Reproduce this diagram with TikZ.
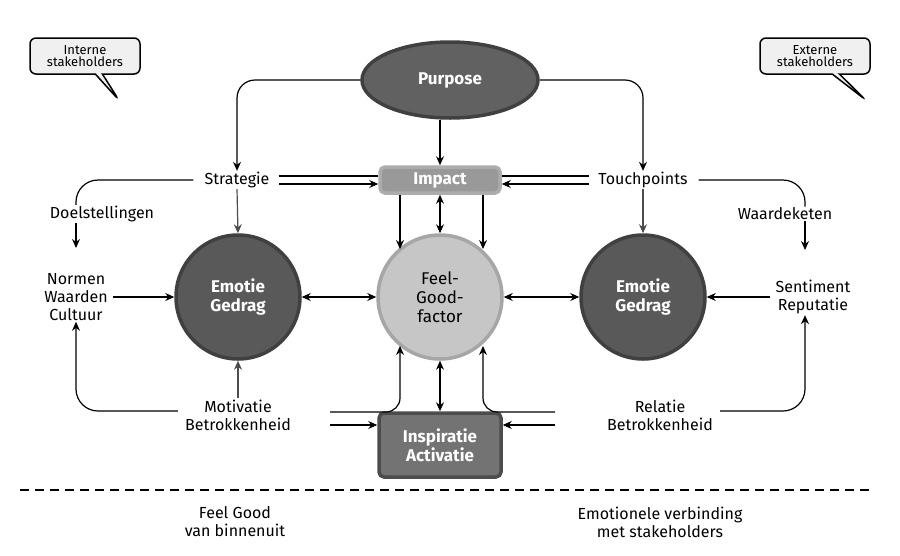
\documentclass[tikz,border=0pt]{standalone}
\usepackage{fontspec}
\setmainfont{Fira Sans}
\usetikzlibrary{shapes.geometric,shapes.callouts,arrows.meta}
\begin{document}
\begin{tikzpicture}[x=1pt,y=-1pt,
  txt/.style={font=\fontsize{16}{18}\selectfont,align=center,inner sep=1pt},
  arr/.style={-{Stealth[length=9pt,width=8pt]},line width=1.2pt},
  darr/.style={{Stealth[length=9pt,width=8pt]}-{Stealth[length=9pt,width=8pt]},line width=1.2pt},
  ln/.style={line width=1.2pt},
  circ/.style={circle,minimum size=124pt,line width=3.5pt,text=white,font=\bfseries\fontsize{17}{19}\selectfont,align=center},
  box/.style={rounded corners=5pt,line width=3.5pt,text=white,font=\bfseries\fontsize{17}{19}\selectfont,align=center},
  call/.style={rectangle callout,rounded corners=6pt,draw,line width=1.5pt,fill=gray!12,font=\fontsize{13}{12}\selectfont,align=center,inner sep=2pt,minimum width=110pt,minimum height=36pt}]
\useasboundingbox (0,0) rectangle (900,555);
% callouts
\node[call,callout relative pointer={(20pt,-26pt)}] (ci) at (85,56) {Interne\\stakeholders};
\node[call,callout relative pointer={(30pt,-26pt)}] (ce) at (815,56) {Externe\\stakeholders};
% main shapes
\node[ellipse,minimum width=176pt,minimum height=76pt,fill=black!62,draw=black!75,line width=3.5pt,text=white,font=\bfseries\fontsize{17}{19}\selectfont] (pur) at (450,80) {Purpose};
\node[box,fill=gray!80,draw=gray!65,minimum width=120pt,minimum height=26pt] (imp) at (440,180) {Impact};
\node[box,fill=black!55,draw=black!70,minimum width=122pt,minimum height=64pt] (ins) at (440,445) {Inspiratie\\Activatie};
\node[circ,fill=black!65,draw=black!75] (el) at (238,297) {Emotie\\Gedrag};
\node[circ,fill=black!65,draw=black!75] (er) at (643,297) {Emotie\\Gedrag};
\node[circ,fill=gray!45,draw=gray!70,text=black,font=\fontsize{17}{19}\selectfont] (fg) at (440,297) {Feel-\\Good-\\factor};
% texts
\node[txt] (str) at (237,180) {Strategie};
\node[txt] (tp) at (643,180) {Touchpoints};
\node[txt] (doel) at (102,214) {Doelstellingen};
\node[txt] (wk) at (785,214) {Waardeketen};
\node[txt] (nwc) at (76,297) {Normen\\Waarden\\Cultuur};
\node[txt] (sr) at (813,297) {Sentiment\\Reputatie};
\node[txt] (mot) at (238,415) {Motivatie\\Betrokkenheid};
\node[txt] (rel) at (660,415) {Relatie\\Betrokkenheid};
\node[txt] (b1) at (235,522) {Feel Good\\van binnenuit};
\node[txt] (b2) at (660,522) {Emotionele verbinding\\met stakeholders};
\draw[ln,dash pattern=on 9pt off 6pt] (20,490) coordinate (dl) -- (870,490) coordinate (dr);
% Purpose arrows
\draw[arr,rounded corners=18pt] (pur.west) -| (str.north);
\draw[arr,rounded corners=18pt] (pur.east) -| (tp.north);
\draw[arr] (pur.south -| imp.north) -- (imp.north);
% Strategie / Touchpoints to Impact
\draw[arr] ([yshift=-4pt]str.east) ++(8,0) -- ([yshift=-4pt]imp.west);
\draw[ln] ([yshift=4pt]str.east) ++(8,0) -- ([yshift=4pt]imp.west);
\draw[arr] ([yshift=-4pt]tp.west) ++(-8,0) -- ([yshift=-4pt]imp.east);
\draw[ln] ([yshift=4pt]tp.west) ++(-8,0) -- ([yshift=4pt]imp.east);
% Impact to Feel-Good
\draw[arr] (imp.south -| 400,0) -- (400,249);
\draw[arr] (imp.south -| 483,0) -- (483,249);
\draw[darr] (imp.south) -- (fg.north);
% down to emotie
\draw[arr,gray!60!black] (str.south) -- (el.north);
\draw[arr,gray!60!black] (tp.south) -- (er.north);
\draw[arr,gray!60!black] (mot.north) -- (el.south);
% left side
\draw[ln,rounded corners=22pt] (str.west) ++(-10,0) -| (doel.north -| 76,0);
\draw[arr] (doel.south -| 76,0) -- (76,248);
\draw[arr] (nwc.east) ++(4,0) -- (el.west);
\draw[arr,rounded corners=22pt] (mot.west) ++(-6,-4) -| (nwc.south);
% right side
\draw[ln,rounded corners=22pt] (tp.east) ++(10,0) -| (wk.north -| 805,0);
\draw[arr] (wk.south -| 805,0) -- (805,250);
\draw[arr] (sr.west) ++(-4,0) -- (er.east);
\draw[arr,rounded corners=22pt] (rel.east) ++(6,-4) -| (sr.south -| 805,0);
% horizontal double arrows
\draw[darr] (el.east) -- (fg.west);
\draw[darr] (fg.east) -- (er.west);
% bottom
\draw[arr,rounded corners=14pt] (330,412) -- (400,412) -- (400,346);
\draw[arr] (330,425) -- (ins.west |- 0,425);
\draw[arr,rounded corners=14pt] (555,412) -- (483,412) -- (483,346);
\draw[arr] (555,425) -- (ins.east |- 0,425);
\draw[darr] (fg.south) -- (ins.north);
\end{tikzpicture}
\end{document}
